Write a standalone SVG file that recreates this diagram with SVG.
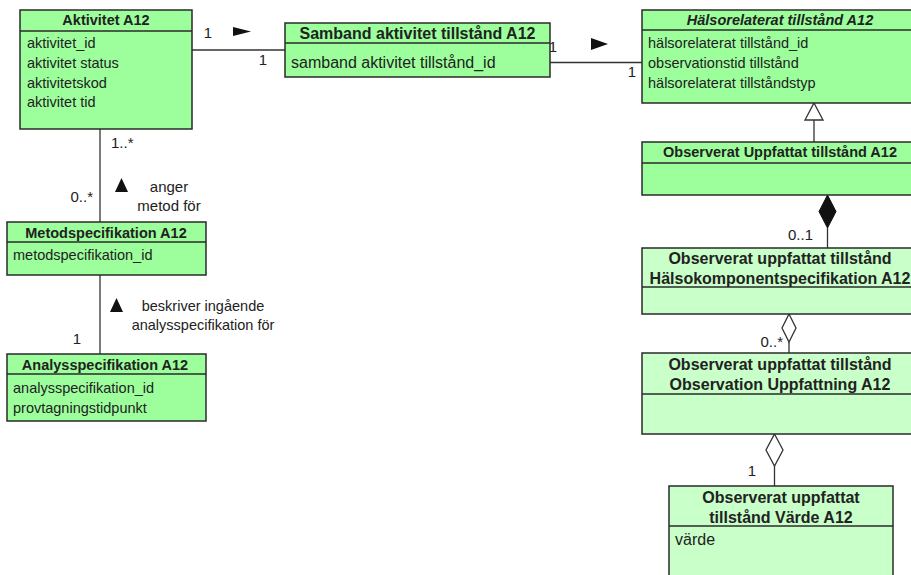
<svg xmlns="http://www.w3.org/2000/svg" width="911" height="575" viewBox="0 0 911 575">
  <style>
    text { font-family: "Liberation Sans", Arial, sans-serif; fill: #222; }
    .box { fill: #9cff9c; stroke: #2a2a2a; stroke-width: 1.5; }
    .box2 { fill: #c9ffc9; stroke: #2a2a2a; stroke-width: 1.5; }
    .sep { stroke: #2a2a2a; stroke-width: 1.5; }
    .t { font-size: 14.5px; font-weight: bold; text-anchor: middle; }
    .tl { font-size: 16px; font-weight: bold; text-anchor: middle; }
    .a { font-size: 14.5px; }
    .al { font-size: 16px; }
    .lbl { font-size: 14.5px; }
    .m { font-size: 15px; }
    .edge { stroke: #333; stroke-width: 1.3; fill: none; }
    .dir { fill: #111; }
  </style>

  <!-- associations -->
  <g id="connectors">
    <!-- Aktivitet - Samband -->
    <line class="edge" x1="192" y1="50" x2="285" y2="50"/>
    <text class="m" x="208" y="38" text-anchor="middle">1</text>
    <polygon class="dir" points="233,27 251,31.5 233,36"/>
    <text class="m" x="263" y="65" text-anchor="middle">1</text>

    <!-- Samband - Hälsorelaterat -->
    <line class="edge" x1="550" y1="62.5" x2="642" y2="62.5"/>
    <text class="m" x="553" y="52" text-anchor="middle">1</text>
    <polygon class="dir" points="591,38 608,44 591,50"/>
    <text class="m" x="632" y="77" text-anchor="middle">1</text>

    <!-- Aktivitet - Metodspecifikation -->
    <line class="edge" x1="100" y1="129" x2="100" y2="222"/>
    <text class="m" x="111" y="148">1..*</text>
    <text class="m" x="93" y="202" text-anchor="end">0..*</text>
    <polygon class="dir" points="121.5,178 128,192 115,192"/>
    <text class="lbl" x="169" y="192" text-anchor="middle" style="font-size:15px">anger</text>
    <text class="lbl" x="169" y="211" text-anchor="middle" style="font-size:15px">metod för</text>

    <!-- Metodspecifikation - Analysspecifikation -->
    <line class="edge" x1="100" y1="275" x2="100" y2="354"/>
    <polygon class="dir" points="116.5,298 123,312 110,312"/>
    <text class="lbl" x="203" y="311" text-anchor="middle">beskriver ingående</text>
    <text class="lbl" x="203" y="330" text-anchor="middle">analysspecifikation för</text>
    <text class="m" x="77" y="344" text-anchor="middle">1</text>

    <!-- generalization -->
    <line class="edge" x1="814" y1="120" x2="814" y2="142"/>
    <polygon points="814,103 823,120 805,120" fill="#fff" stroke="#333" stroke-width="1.3"/>

    <!-- composition -->
    <line class="edge" x1="827.5" y1="228" x2="827.5" y2="248"/>
    <polygon points="827.5,195 836,211.5 827.5,228 819,211.5" fill="#111" stroke="#111" stroke-width="1"/>
    <text class="m" x="813" y="240" text-anchor="end">0..1</text>

    <!-- aggregation 1 -->
    <line class="edge" x1="789" y1="342" x2="789" y2="353"/>
    <polygon points="789,314 796,328 789,342 782,328" fill="#fff" stroke="#333" stroke-width="1.3"/>
    <text class="m" x="783" y="347" text-anchor="end">0..*</text>

    <!-- aggregation 2 -->
    <line class="edge" x1="774.5" y1="466" x2="774.5" y2="486"/>
    <polygon points="774.5,434 783,450 774.5,466 766,450" fill="#fff" stroke="#333" stroke-width="1.3"/>
    <text class="m" x="752" y="476" text-anchor="middle">1</text>
  </g>

  <g id="aktivitet">
    <rect class="box" x="20" y="10" width="172" height="119"/>
    <line class="sep" x1="20" y1="31" x2="192" y2="31"/>
    <text class="t" x="106" y="25">Aktivitet A12</text>
    <text class="a" x="27" y="48">aktivitet_id</text>
    <text class="a" x="27" y="68">aktivitet status</text>
    <text class="a" x="27" y="88">aktivitetskod</text>
    <text class="a" x="27" y="107">aktivitet tid</text>
  </g>

  <g id="samband">
    <rect class="box" x="285" y="23" width="265" height="54"/>
    <line class="sep" x1="285" y1="43" x2="550" y2="43"/>
    <text class="tl" x="417.5" y="38.5">Samband aktivitet tillstånd A12</text>
    <text class="al" x="291" y="67.5">samband aktivitet tillstånd_id</text>
  </g>

  <g id="halsorelaterat">
    <rect class="box" x="642" y="10" width="290" height="93"/>
    <line class="sep" x1="642" y1="30" x2="932" y2="30"/>
    <text class="t" x="780" y="25" font-style="italic">Hälsorelaterat tillstånd A12</text>
    <text class="a" x="648" y="48">hälsorelaterat tillstånd_id</text>
    <text class="a" x="648" y="68">observationstid tillstånd</text>
    <text class="a" x="648" y="88">hälsorelaterat tillståndstyp</text>
  </g>

  <g id="observerat-uppfattat">
    <rect class="box" x="642" y="142" width="290" height="53"/>
    <line class="sep" x1="642" y1="163" x2="932" y2="163"/>
    <text class="t" x="780" y="157">Observerat Uppfattat tillstånd A12</text>
  </g>

  <g id="halsokomponentspecifikation">
    <rect class="box2" x="642" y="248" width="290" height="66"/>
    <line class="sep" x1="642" y1="287" x2="932" y2="287"/>
    <text class="tl" x="780" y="263.5">Observerat uppfattat tillstånd</text>
    <text class="tl" x="780" y="283.5">Hälsokomponentspecifikation A12</text>
  </g>

  <g id="observation-uppfattning">
    <rect class="box2" x="642" y="353" width="290" height="81"/>
    <line class="sep" x1="642" y1="394" x2="932" y2="394"/>
    <text class="tl" x="780" y="369.5">Observerat uppfattat tillstånd</text>
    <text class="tl" x="780" y="389.5">Observation Uppfattning A12</text>
  </g>

  <g id="varde">
    <rect class="box2" x="669" y="486" width="224" height="110"/>
    <line class="sep" x1="669" y1="526" x2="893" y2="526"/>
    <text class="tl" x="781" y="502.5">Observerat uppfattat</text>
    <text class="tl" x="781" y="522.5">tillstånd Värde A12</text>
    <text class="al" x="675" y="544.5">värde</text>
  </g>

  <g id="metodspecifikation">
    <rect class="box" x="7" y="222" width="199" height="53"/>
    <line class="sep" x1="7" y1="242" x2="206" y2="242"/>
    <text class="t" x="106" y="238">Metodspecifikation A12</text>
    <text class="a" x="13" y="260">metodspecifikation_id</text>
  </g>

  <g id="analysspecifikation">
    <rect class="box" x="7" y="354" width="199" height="67"/>
    <line class="sep" x1="7" y1="374" x2="206" y2="374"/>
    <text class="t" x="105" y="370">Analysspecifikation A12</text>
    <text class="a" x="13" y="393">analysspecifikation_id</text>
    <text class="a" x="13" y="413">provtagningstidpunkt</text>
  </g>
</svg>
